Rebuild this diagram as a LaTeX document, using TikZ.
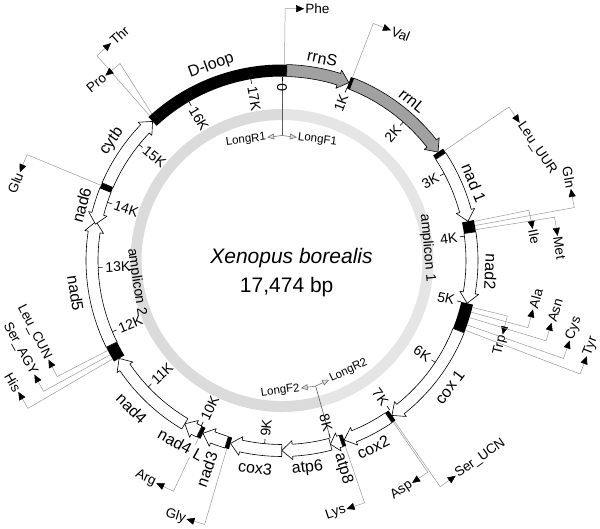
\documentclass[tikz,border=0pt]{standalone}
\usepackage{fontspec}
\setmainfont{Liberation Sans}
\usetikzlibrary{arrows.meta,calc}

% ring of genes: outer edge 196pt, inner edge 184pt
% positions in kb, 0 at the top, running clockwise
\newcommand{\genearrow}[3]{%
  \pgfmathsetmacro\gta{90-#1*20.602}%
  \pgfmathsetmacro\gtb{90-#2*20.602}%
  \pgfmathsetmacro\gth{\gtb+sign(\gta-\gtb)*min(3.2,0.75*abs(\gta-\gtb))}%
  \draw[gene,fill=#3] (\gta:196pt) arc[start angle=\gta,end angle=\gth,radius=196pt]
    -- (\gth:199.5pt) -- (\gtb:190pt) -- (\gth:180.5pt) -- (\gth:184pt)
    arc[start angle=\gth,end angle=\gta,radius=184pt] -- cycle;
}
\newcommand{\darkblock}[2]{%
  \pgfmathsetmacro\gta{90-#1*20.602}%
  \pgfmathsetmacro\gtb{90-#2*20.602}%
  \fill (\gta:196pt) arc[start angle=\gta,end angle=\gtb,radius=196pt]
    -- (\gtb:184pt) arc[start angle=\gtb,end angle=\gta,radius=184pt] -- cycle;
}
% name, kb, kb of the elbow, elbow radius, strand (1 clockwise, -1 back), text
\newcommand{\trna}[6]{%
  \pgfmathsetmacro\ta{90-#2*20.602}%
  \pgfmathsetmacro\te{90-#3*20.602}%
  \pgfmathsetmacro\td{mod(\te-90*(#5)+720,360)}%
  \pgfmathtruncatemacro\tflip{(\td>90)&&(\td<270)}%
  \ifnum\tflip=1 \def\tanc{east}\pgfmathsetmacro\trot{\td-180}%
  \else \def\tanc{west}\pgfmathsetmacro\trot{\td}\fi
  \coordinate (#1-r) at (\ta:196pt);
  \coordinate (#1-e) at (\te:#4pt);
  \node[trnalabel,rotate=\trot,anchor=\tanc] (#1) at ($(#1-e)+(\td:19pt)$) {#6};
  \draw[leader] (#1-r) -- (#1-e) -- (#1);
}

\tikzset{
  gene/.style={draw=black,line width=0.6pt,line join=round},
  leader/.style={draw=black!40,line width=0.5pt,-{Triangle[length=8pt,width=7pt,color=black]}},
  primerline/.style={draw=black!65,line width=0.6pt},
  primer/.style={draw=black!55,line width=0.6pt,-{Triangle[length=7pt,width=6pt,fill=black!15]}},
  tickmark/.style={draw=black,line width=0.6pt},
  genelabel/.style={font=\fontsize{16}{18}\selectfont,inner sep=1pt},
  amplabel/.style={font=\fontsize{14}{16}\selectfont,inner sep=1pt},
  trnalabel/.style={font=\fontsize{13.5}{15}\selectfont,inner sep=1pt},
  ticklabel/.style={font=\fontsize{14}{16}\selectfont,inner sep=1pt},
  primerlabel/.style={font=\fontsize{11.5}{13}\selectfont,inner sep=1pt},
}

\begin{document}
\begin{tikzpicture}[x=1pt,y=1pt]
  \useasboundingbox (-282,-267.5) rectangle (318,260.5);

  % amplicons
  \draw[line width=11pt,black!10] (90:146pt) arc[start angle=90,end angle=-74.8,radius=146pt];
  \draw[line width=11pt,black!14] (-74.8:146pt) arc[start angle=-74.8,end angle=-270,radius=146pt];
  \node[amplabel,rotate=-85] (amp1) at (5:146pt) {amplicon 1};
  \node[amplabel,rotate=-81.5] (amp2) at (-171.5:147pt) {amplicon 2};

  % primers
  \coordinate (p1) at (90:184pt);
  \coordinate (j1) at (90:125pt);
  \draw[primerline] (p1) -- (j1);
  \node[primerlabel,rotate=-7,anchor=west] (longf1) at ($(j1)+(-7:15pt)$) {LongF1};
  \node[primerlabel,rotate=7,anchor=east] (longr1) at ($(j1)+(187:15pt)$) {LongR1};
  \draw[primer] (j1) -- (longf1);
  \draw[primer] (j1) -- (longr1);
  \coordinate (p2) at (-74.8:184pt);
  \coordinate (j2) at (-75:130pt);
  \draw[primerline] (p2) -- (j2);
  \node[primerlabel,rotate=8,anchor=east] (longf2) at ($(j2)+(188:15pt)$) {LongF2};
  \node[primerlabel,rotate=25,anchor=west] (longr2) at ($(j2)+(25:15pt)$) {LongR2};
  \draw[primer] (j2) -- (longf2);
  \draw[primer] (j2) -- (longr2);

  % name and size
  \node[font=\fontsize{21}{24}\selectfont\itshape,anchor=base] (species) at (9.5,-2.5) {Xenopus borealis};
  \node[font=\fontsize{21}{24}\selectfont,anchor=base] (size) at (4.7,-31.5) {17,474 bp};

  % genes
  \darkblock{0}{0.07}
  \genearrow{0.07}{1.00}{black!37}
  \darkblock{1.00}{1.045}
  \genearrow{1.045}{2.68}{black!37}
  \darkblock{2.68}{2.75}
  \genearrow{2.75}{3.79}{white}
  \darkblock{3.79}{3.96}
  \genearrow{3.96}{5.00}{white}
  \darkblock{5.00}{5.42}
  \genearrow{5.42}{7.02}{white}
  \darkblock{7.02}{7.08}
  \genearrow{7.08}{7.81}{white}
  \darkblock{7.81}{7.86}
  \genearrow{7.86}{8.02}{white}
  \genearrow{8.02}{8.74}{white}
  \genearrow{8.74}{9.50}{white}
  \darkblock{9.50}{9.56}
  \genearrow{9.56}{9.93}{white}
  \darkblock{9.93}{9.99}
  \genearrow{9.99}{10.23}{white}
  \genearrow{10.23}{11.60}{white}
  \darkblock{11.60}{11.83}
  \genearrow{11.83}{13.68}{white}
  \genearrow{14.16}{13.64}{white}
  \darkblock{14.16}{14.24}
  \genearrow{14.24}{15.39}{white}
  \darkblock{15.39}{15.48}
  % D-loop
  \darkblock{15.48}{17.474}

  % scale
  \foreach \kk in {0,...,17}{
    \pgfmathsetmacro\ka{90-\kk*20.602}
    \draw[tickmark] (\ka:184pt) -- (\ka:179.5pt);
    \ifdim\ka pt>-90pt
      \node[ticklabel,rotate=\ka,anchor=east] (k\kk) at (\ka:178pt) {\ifnum\kk=0 0\else\kk K\fi};
    \else
      \pgfmathsetmacro\kb{\ka+180}
      \node[ticklabel,rotate=\kb,anchor=west] (k\kk) at (\ka:178pt) {\kk K};
    \fi
  }

  % tRNAs
  \trna{phe}{0.035}{0.035}{252}{1}{Phe}
  \trna{val}{1.022}{1.022}{254}{1}{Val}
  \trna{leuuur}{2.715}{2.715}{274}{1}{Leu\_UUR}
  \trna{ile}{3.81}{3.81}{252}{1}{Ile}
  \trna{gln}{3.87}{3.87}{297}{-1}{Gln}
  \trna{met}{3.93}{3.93}{276}{1}{Met}
  \trna{trp}{5.04}{5.04}{232}{1}{Trp}
  \trna{ala}{5.11}{5.11}{255}{-1}{Ala}
  \trna{asn}{5.19}{5.19}{276}{-1}{Asn}
  \trna{cys}{5.30}{5.30}{298}{-1}{Cys}
  \trna{tyr}{5.38}{5.38}{319}{-1}{Tyr}
  \trna{serucn}{7.04}{7.04}{276}{-1}{Ser\_UCN}
  \trna{asp}{7.06}{7.06}{257}{1}{Asp}
  \trna{lys}{7.824}{7.824}{256}{1}{Lys}
  \trna{gly}{9.53}{9.53}{275}{1}{Gly}
  \trna{arg}{9.96}{9.96}{255}{1}{Arg}
  \trna{his}{11.64}{11.64}{294}{1}{His}
  \trna{seragy}{11.71}{11.71}{272}{1}{Ser\_AGY}
  \trna{leucun}{11.78}{11.78}{253}{1}{Leu\_CUN}
  \trna{glu}{14.20}{14.20}{276}{-1}{Glu}
  \trna{thr}{15.415}{15.43}{276}{1}{Thr}
  \trna{pro}{15.455}{15.56}{255}{-1}{Pro}

  % gene names
  \node[genelabel,rotate=20] (dloop) at (110:207pt) {D-loop};
  \node[genelabel,rotate=-11.3] (rrns) at (78.7:206pt) {rrnS};
  \node[genelabel,rotate=-39.2] (rrnl) at (50.8:206pt) {rrnL};
  \node[genelabel,rotate=-68] (nad1) at (22:207pt) {nad 1};
  \node[genelabel,rotate=-93] (nad2) at (-3:209pt) {nad2};
  \node[genelabel,rotate=53] (cox1) at (-37:210pt) {cox 1};
  \node[genelabel,rotate=26] (cox2) at (-64:208pt) {cox2};
  \node[genelabel,rotate=-73.6] (atp8) at (-73.6:217pt) {atp8};
  \node[genelabel,rotate=7] (atp6) at (-83:209pt) {atp6};
  \node[genelabel,rotate=-7.4] (cox3) at (-97.4:209pt) {cox3};
  \node[genelabel,rotate=70.2] (nad3) at (-109.8:222pt) {nad3};
  \node[genelabel,rotate=-28.8,fill=white] (nad4l) at (-118.8:210pt) {nad4 L};
  \node[genelabel,rotate=-45.4] (nad4) at (-135.4:211pt) {nad4};
  \node[genelabel,rotate=-81] (nad5) at (-171:209pt) {nad5};
  \node[genelabel,rotate=74.6] (nad6) at (164.6:208pt) {nad6};
  \node[genelabel,rotate=55] (cytb) at (145:208pt) {cytb};
\end{tikzpicture}
\end{document}
